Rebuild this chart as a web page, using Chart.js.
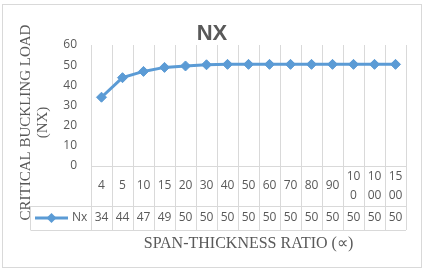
<!DOCTYPE html>
<html>
<head>
<meta charset="utf-8">
<script src="https://cdn.jsdelivr.net/npm/chart.js@4.4.0/dist/chart.umd.min.js"></script>
<style>html,body{margin:0;padding:0;background:#fff;}canvas{display:block;}</style>
</head>
<body>
<canvas id="c" width="424" height="270"></canvas>
<script>
// ---- data ----
const categories = ['4','5','10','15','20','30','40','50','60','70','80','90','100','1000','1500'];
const categoryLabelLines = [['4'],['5'],['10'],['15'],['20'],['30'],['40'],['50'],['60'],['70'],['80'],['90'],['10','0'],['10','00'],['15','00']];
const seriesName = 'Nx';
const nxValues = [34.1, 43.8, 46.9, 48.9, 49.6, 50.2, 50.4, 50.4, 50.4, 50.4, 50.4, 50.4, 50.4, 50.4, 50.4];
const yTickValues = [0, 10, 20, 30, 40, 50, 60];
const chartTitle = 'NX';
const yTitleLines = ['CRITICAL BUCKLING LOAD', '(NX)'];
const xTitle = 'SPAN-THICKNESS RATIO (\u221D)';

const LINE = '#5B9BD5';
const GRID = '#D9D9D9';
const TEXT = '#595959';
const SANS = '"Open Sans", "Liberation Sans", sans-serif';
const SERIF = '"Liberation Serif", "Times New Roman", serif';

const framePlugin = {
  id: 'frame',
  beforeDraw(chart) {
    const ctx = chart.ctx;
    ctx.save();
    ctx.fillStyle = '#fff';
    ctx.fillRect(0, 0, chart.width, chart.height);
    ctx.strokeStyle = GRID;
    ctx.lineWidth = 1;
    ctx.strokeRect(2.5, 4.5, 419, 263);
    ctx.restore();
  }
};

const tablePlugin = {
  id: 'dataTable',
  afterDraw(chart) {
    const ctx = chart.ctx;
    const xs = chart.scales.x;
    const area = chart.chartArea;
    const colW = xs.getPixelForValue(1) - xs.getPixelForValue(0);
    const top = area.bottom;
    const row1B = top + 40;
    const row2B = row1B + 24;
    const legendLeft = 30.5;
    ctx.save();
    ctx.strokeStyle = GRID;
    ctx.lineWidth = 1;
    ctx.beginPath();
    // vertical lines through table
    for (let i = 0; i <= categories.length; i++) {
      const x = Math.round(xs.getPixelForValue(i) - colW / 2) + 0.5;
      ctx.moveTo(x, top);
      ctx.lineTo(x, row2B);
    }
    ctx.moveTo(legendLeft, row1B);
    ctx.lineTo(legendLeft, row2B);
    // horizontal lines
    ctx.moveTo(area.left, top + 0.5); ctx.lineTo(area.right, top + 0.5);
    ctx.moveTo(legendLeft, row1B + 0.5); ctx.lineTo(area.right, row1B + 0.5);
    ctx.moveTo(legendLeft, row2B + 0.5); ctx.lineTo(area.right, row2B + 0.5);
    ctx.stroke();

    ctx.fillStyle = TEXT;
    ctx.font = '12px ' + SANS;
    ctx.textAlign = 'center';
    ctx.textBaseline = 'middle';
    const r1c = (top + row1B) / 2;
    const r2c = (row1B + row2B) / 2;
    categoryLabelLines.forEach((lines, i) => {
      const x = xs.getPixelForValue(i);
      const lh = 19;
      const start = r1c - (lines.length - 1) * lh / 2;
      lines.forEach((t, j) => ctx.fillText(t, x, start + j * lh));
      ctx.fillText(String(Math.round(nxValues[i])), x, r2c);
    });

    // legend key
    ctx.strokeStyle = LINE;
    ctx.lineWidth = 3;
    ctx.beginPath();
    ctx.moveTo(35, r2c);
    ctx.lineTo(68, r2c);
    ctx.stroke();
    ctx.fillStyle = LINE;
    ctx.beginPath();
    ctx.moveTo(51.5, r2c - 5);
    ctx.lineTo(56.5, r2c);
    ctx.lineTo(51.5, r2c + 5);
    ctx.lineTo(46.5, r2c);
    ctx.closePath();
    ctx.fill();
    ctx.fillStyle = TEXT;
    ctx.textAlign = 'left';
    ctx.fillText(seriesName, 72, r2c);

    // y axis title
    ctx.save();
    ctx.translate(26, 122.5);
    ctx.rotate(-Math.PI / 2);
    ctx.font = '15px ' + SERIF;
    ctx.textAlign = 'center';
    ctx.textBaseline = 'middle';
    yTitleLines.forEach((t, j) => ctx.fillText(t, 0, j * 17));
    ctx.restore();
    ctx.restore();
  }
};

new Chart(document.getElementById('c'), {
  type: 'line',
  data: {
    labels: categories,
    datasets: [{
      label: seriesName,
      data: nxValues,
      borderColor: LINE,
      backgroundColor: LINE,
      borderWidth: 3,
      pointStyle: 'rectRot',
      pointRadius: 5,
      pointHoverRadius: 5,
      pointBorderWidth: 1,
      pointBackgroundColor: LINE,
      pointBorderColor: LINE,
      tension: 0
    }]
  },
  options: {
    responsive: false,
    devicePixelRatio: 1,
    animation: false,
    layout: { padding: { left: 18, right: 18, top: 0, bottom: 0 } },
    plugins: {
      legend: { display: false },
      tooltip: { enabled: false },
      title: {
        display: true,
        text: chartTitle,
        color: TEXT,
        font: { family: '"Liberation Sans", Arial, sans-serif', size: 22, weight: 'bold', lineHeight: 1 },
        padding: { top: 23, bottom: 0 }
      }
    },
    scales: {
      x: {
        type: 'category',
        offset: true,
        grid: { display: true, offset: true, color: GRID, drawTicks: false, lineWidth: 1 },
        border: { display: true, color: GRID },
        ticks: { display: false },
        title: {
          display: true,
          text: xTitle,
          color: TEXT,
          font: { family: SERIF, size: 16, lineHeight: 1.2 },
          padding: { top: 0, bottom: 17 }
        },
        afterFit(scale) { scale.height = 104; }
      },
      y: {
        min: 0,
        max: 60,
        grid: { display: false, drawTicks: false },
        border: { display: false },
        afterBuildTicks(scale) { scale.ticks = yTickValues.map(v => ({ value: v })); },
        ticks: {
          color: TEXT,
          font: { family: SANS, size: 12 },
          padding: 14
        },
        afterFit(scale) { scale.width = 73; }
      }
    }
  },
  plugins: [framePlugin, tablePlugin]
});
</script>
</body>
</html>
